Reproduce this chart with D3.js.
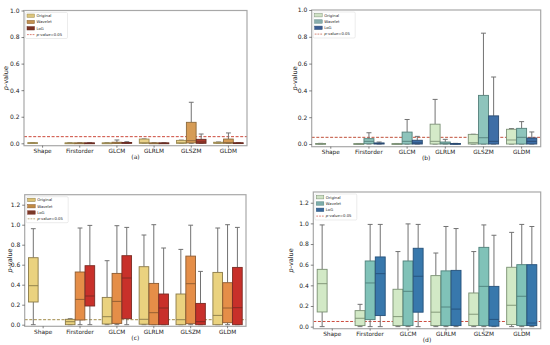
<meta charset="utf-8">
<head>
  <title>p-value box plots</title>
</head>
<style>
body { margin:0; background:#fff; }
text { font-family: "DejaVu Sans", sans-serif; fill:#222; }
</style>
<body>
<div id="content"></div>
<script src="https://cdnjs.cloudflare.com/ajax/libs/d3/7.8.5/d3.min.js"></script>
<script>

const width = 550
const height = 345

const categories = ["Shape", "Firstorder", "GLCM", "GLRLM", "GLSZM", "GLDM"];
const groups = ["Original", "Wavelet", "LoG"];
const yTicks = [0, 0.2, 0.4, 0.6, 0.8, 1.0];
const yTicksTall = [0, 0.2, 0.4, 0.6, 0.8, 1.0, 1.2];

// each entry: [low whisker, q1, median, q3, high whisker], null = no box
const aOriginal = [[0,0,0.001,0.005,0.006],[0,0,0.001,0.003,0.004],[0,0,0.001,0.003,0.004],[0,0,0.005,0.032,0.033],[0,0,0.004,0.022,0.024],[0,0,0.003,0.008,0.01]];
const aWavelet  = [null,[0,0,0.001,0.003,0.004],[0,0,0.002,0.008,0.025],[0,0,0.001,0.003,0.004],[0,0.003,0.02,0.158,0.309],[0,0,0.006,0.032,0.078]];
const aLoG      = [null,[0,0,0.001,0.003,0.004],[0,0,0.002,0.006,0.012],[0,0,0.001,0.003,0.004],[0,0,0.01,0.03,0.07],[0,0,0.001,0.004,0.005]];

const bOriginal = [[0,0,0.001,0.004,0.005],[0,0,0.001,0.003,0.004],[0,0,0.001,0.003,0.004],[0,0,0.02,0.148,0.333],[0,0,0.01,0.072,0.073],[0,0,0.03,0.11,0.115]];
const bWavelet  = [null,[0,0.002,0.02,0.04,0.084],[0,0,0.02,0.089,0.183],[0,0,0.005,0.015,0.035],[0,0,0.047,0.363,0.827],[0,0,0.05,0.117,0.167]];
const bLoG      = [null,[0,0,0.004,0.008,0.015],[0,0,0.008,0.028,0.057],[0,0,0.001,0.004,0.005],[0,0,0.02,0.21,0.5],[0,0,0.02,0.045,0.09]];

const cOriginal = [[0,0.227,0.39,0.67,0.96],[0,0,0.03,0.054,0.06],[0,0.007,0.08,0.273,0.64],[0,0.005,0.054,0.58,0.897],[0,0,0.05,0.307,0.753],[0,0,0.093,0.523,0.967]];
const cWavelet  = [null,[0,0.047,0.253,0.527,0.967],[0,0.013,0.233,0.513,0.99],[0,0,0.12,0.413,1.0],[0,0.01,0.41,0.686,0.995],[0,0.02,0.167,0.42,1.0]];
const cLoG      = [null,[0,0.187,0.287,0.59,0.993],[0,0.06,0.467,0.69,0.973],[0,0,0.167,0.307,0.767],[0,0,0.03,0.213,0.533],[0,0,0.17,0.573,0.973]];

const dOriginal = [[0,0.142,0.416,0.555,0.985],[0,0.01,0.081,0.155,0.216],[0,0.01,0.097,0.362,0.727],[0,0.01,0.14,0.494,0.713],[0,0.01,0.12,0.326,0.727],[0,0.02,0.207,0.575,0.913]];
const dWavelet  = [null,[0,0.068,0.423,0.636,0.99],[0,0.01,0.342,0.636,0.995],[0,0.01,0.19,0.54,0.97],[0,0.01,0.39,0.768,0.985],[0,0.01,0.294,0.6,0.99]];
const dLoG      = [null,[0,0.107,0.513,0.675,0.99],[0,0.14,0.488,0.759,0.99],[0,0.01,0.17,0.545,0.95],[0,0.005,0.07,0.39,0.885],[0,0.01,0.035,0.6,0.97]];

const threshold = 0.05;

const svg = d3.select('#content')
  .append('svg')
    .attr('width', width)
    .attr('height', height)

const panels = [
  { name:"(a)", series:[aOriginal, aWavelet, aLoG], ticks:yTicks, ydom:[-0.018, 1.0],
    x0:24, x1:247, y0:10.5, y1:145.7, ylab:6,
    fill:["#ead28a","#d69c56","#a8392b"], edge:["#9c8a52","#8c6a3c","#6a2c22"],
    legendFill:["#dcc57c","#c29050","#7a3224"], dash:"#cc4a3c" },
  { name:"(b)", series:[bOriginal, bWavelet, bLoG], ticks:yTicks, ydom:[-0.02, 1.0],
    x0:311.7, x1:540.7, y0:10, y1:146.7, ylab:294.5,
    fill:["#d4eac8","#8ec4bc","#3e6ea6"], edge:["#7e9278","#55807a","#2a4a70"],
    legendFill:["#cfe2c4","#8aaeae","#3a5c94"], dash:"#c0503a" },
  { name:"(c)", series:[cOriginal, cWavelet, cLoG], ticks:yTicksTall, ydom:[-0.016, 1.3],
    x0:24.7, x1:246, y0:194.7, y1:326.3, ylab:9.5,
    fill:["#ead27f","#e58e48","#c8302a"], edge:["#8a7a48","#8c5a30","#7a2a22"],
    legendFill:["#dcc274","#c08a42","#7c3a28"], dash:"#a08a4a" },
  { name:"(d)", series:[dOriginal, dWavelet, dLoG], ticks:yTicksTall, ydom:[-0.02, 1.304],
    x0:313.3, x1:540.7, y0:192, y1:328.7, ylab:291,
    fill:["#d2e9c6","#80c2b8","#3878ac"], edge:["#7a9072","#4e807a","#24507a"],
    legendFill:["#cfe2c4","#7eaeac","#3a689a"], dash:"#cc4a3c" }
];

panels.forEach(drawPanel);

function drawPanel(p) {
  var g = svg.append('g');

  var x = d3.scaleBand().domain(categories).range([p.x0, p.x1]);
  var hue = d3.scaleBand().domain(groups).range([0, x.bandwidth() * 0.8]);
  var y = d3.scaleLinear().domain(p.ydom).range([p.y1, p.y0]);

  // threshold line
  g.append('line')
    .attr('x1', p.x0).attr('x2', p.x1)
    .attr('y1', y(threshold)).attr('y2', y(threshold))
    .attr('stroke', p.dash).attr('stroke-width', 1)
    .attr('stroke-dasharray', '3,1.6');

  groups.forEach(function(grp, gi) {
    var data = p.series[gi];
    var boxes = categories.map(function(c, ci) {
      return { cat: c, s: data[ci] };
    }).filter(function(d) { return d.s; });

    var bw = hue.bandwidth() * 0.98;
    var cx = function(d) { return x(d.cat) + x.bandwidth() * 0.1 + hue(grp) + hue.bandwidth() / 2; };

    var bg = g.append('g');
    // whiskers
    bg.selectAll('line.wlo').data(boxes).enter().append('line')
      .attr('x1', cx).attr('x2', cx)
      .attr('y1', function(d) { return y(d.s[0]); })
      .attr('y2', function(d) { return y(d.s[1]); })
      .attr('stroke', '#727272').attr('stroke-width', 1);
    bg.selectAll('line.whi').data(boxes).enter().append('line')
      .attr('x1', cx).attr('x2', cx)
      .attr('y1', function(d) { return y(d.s[3]); })
      .attr('y2', function(d) { return y(d.s[4]); })
      .attr('stroke', '#727272').attr('stroke-width', 1);
    // caps
    [0, 4].forEach(function(k) {
      bg.selectAll('line.cap' + k).data(boxes).enter().append('line')
        .attr('x1', function(d) { return cx(d) - bw / 4; })
        .attr('x2', function(d) { return cx(d) + bw / 4; })
        .attr('y1', function(d) { return y(d.s[k]); })
        .attr('y2', function(d) { return y(d.s[k]); })
        .attr('stroke', '#727272').attr('stroke-width', 1);
    });
    // boxes
    bg.selectAll('rect').data(boxes).enter().append('rect')
      .attr('x', function(d) { return cx(d) - bw / 2; })
      .attr('width', bw)
      .attr('y', function(d) { return y(d.s[3]); })
      .attr('height', function(d) { return Math.max(0.8, y(d.s[1]) - y(d.s[3])); })
      .attr('fill', p.fill[gi])
      .attr('stroke', p.edge[gi]).attr('stroke-width', 0.9);
    // medians
    bg.selectAll('line.med').data(boxes).enter().append('line')
      .attr('x1', function(d) { return cx(d) - bw / 2; })
      .attr('x2', function(d) { return cx(d) + bw / 2; })
      .attr('y1', function(d) { return y(d.s[2]); })
      .attr('y2', function(d) { return y(d.s[2]); })
      .attr('stroke', p.edge[gi]).attr('stroke-width', 0.9);
  });

  // frame
  g.append('rect')
    .attr('x', p.x0).attr('y', p.y0)
    .attr('width', p.x1 - p.x0).attr('height', p.y1 - p.y0)
    .attr('fill', 'none').attr('stroke', '#a8a8a8').attr('stroke-width', 1.2);

  // y axis
  var ya = g.append('g')
    .attr('transform', 'translate(' + p.x0 + ',0)')
    .call(d3.axisLeft(y).tickValues(p.ticks).tickFormat(d3.format('.1f')).tickSize(2.5).tickPadding(2));
  ya.select('.domain').remove();
  ya.selectAll('line').attr('stroke', '#333').attr('stroke-width', 0.6);
  ya.selectAll('text').style('font-size', '6px').attr('fill', '#222');

  // x axis
  var xa = g.append('g')
    .attr('transform', 'translate(0,' + p.y1 + ')')
    .call(d3.axisBottom(x).tickSize(2).tickPadding(1.5));
  xa.select('.domain').remove();
  xa.selectAll('line').attr('stroke', '#333').attr('stroke-width', 0.6);
  xa.selectAll('text').style('font-size', '5.8px').attr('fill', '#222');

  // y label
  var yl = g.append('text')
    .attr('transform', 'translate(' + p.ylab + ',' + ((p.y0 + p.y1) / 2) + ') rotate(-90)')
    .attr('text-anchor', 'middle')
    .attr('dy', '0.35em')
    .style('font-size', '6.5px');
  yl.append('tspan').style('font-style', 'italic').text('p');
  yl.append('tspan').text('-value');

  // caption
  g.append('text')
    .attr('x', (p.x0 + p.x1) / 2)
    .attr('y', p.y1 + 13.5)
    .attr('text-anchor', 'middle')
    .style('font-size', '6px')
    .text(p.name);

  // legend
  var lx = p.x0 + 1.5, ly = p.y0 + 2;
  var lg = g.append('g').attr('transform', 'translate(' + lx + ',' + ly + ')');
  lg.append('rect')
    .attr('width', 42).attr('height', 26)
    .attr('rx', 1.2)
    .attr('fill', '#fff').attr('fill-opacity', 0.85)
    .attr('stroke', '#d8d8d8').attr('stroke-width', 0.5);
  groups.forEach(function(grp, gi) {
    var yy = 3.2 + gi * 6.3;
    lg.append('rect')
      .attr('x', 1.5).attr('y', yy - 1.7)
      .attr('width', 7.5).attr('height', 3.4)
      .attr('fill', p.legendFill[gi])
      .attr('stroke', p.edge[gi]).attr('stroke-width', 0.5);
    lg.append('text')
      .attr('x', 11).attr('y', yy).attr('dy', '0.35em')
      .style('font-size', '3.8px')
      .text(grp);
  });
  var yd = 3.2 + 3 * 6.3;
  lg.append('line')
    .attr('x1', 1.5).attr('x2', 9)
    .attr('y1', yd).attr('y2', yd)
    .attr('stroke', p.dash).attr('stroke-width', 0.7)
    .attr('stroke-dasharray', '1.8,1');
  var lt = lg.append('text')
    .attr('x', 11).attr('y', yd).attr('dy', '0.35em')
    .style('font-size', '3.8px');
  lt.append('tspan').style('font-style', 'italic').text('p');
  lt.append('tspan').text('-value=' + threshold.toFixed(2));
}

</script>
</body>
</html>
